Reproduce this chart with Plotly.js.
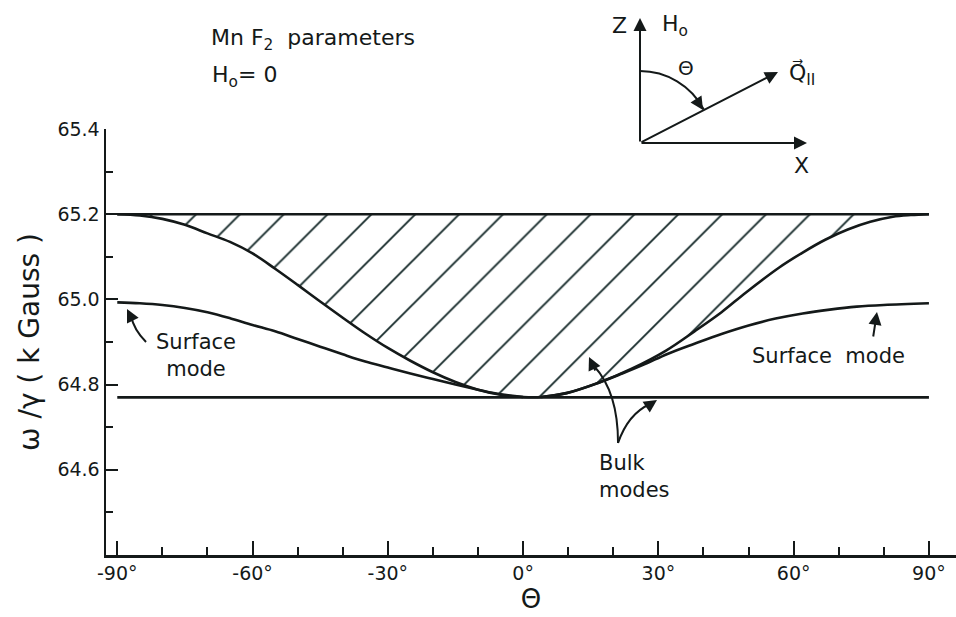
<!DOCTYPE html>
<html>
<head>
<meta charset="utf-8">
<script src="https://cdn.plot.ly/plotly-3.0.1.min.js"></script>
<style>html,body{margin:0;padding:0;background:#fff;}#chart{width:956px;height:617px;}</style>
</head>
<body>
<div id="chart"></div>
<script>
// ---- Data ----
const thetaBulk = [-90, -85, -80, -75, -70, -65, -60, -55, -50, -45, -40, -35, -30, -25, -20, -15, -10, -5, 0, 4, 9.6, 16.9, 24.2, 31.7, 38, 44, 49.5, 56.8, 62, 67, 72, 77, 82, 86, 90];
const omegaBulk = [65.2, 65.197, 65.189, 65.175, 65.155, 65.135, 65.108, 65.072, 65.034, 64.995, 64.957, 64.920, 64.886, 64.856, 64.829, 64.806, 64.788, 64.776, 64.771, 64.771, 64.780, 64.805, 64.838, 64.880, 64.925, 64.970, 65.017, 65.075, 65.110, 65.140, 65.164, 65.182, 65.194, 65.198, 65.2];

const thetaSurfLeft = [-90, -85, -80, -75, -70, -65, -60, -55, -50, -45, -40, -35, -30, -25, -20, -15, -10, -5, 0];
const omegaSurfLeft = [64.993, 64.991, 64.987, 64.980, 64.970, 64.956, 64.940, 64.925, 64.907, 64.889, 64.871, 64.854, 64.840, 64.826, 64.813, 64.800, 64.788, 64.777, 64.771];

const thetaSurfRight = [4, 9.6, 16.9, 22, 27, 32, 38, 44, 50, 56, 62, 68, 74, 80, 90];
const omegaSurfRight = [64.771, 64.780, 64.805, 64.826, 64.848, 64.872, 64.896, 64.919, 64.939, 64.955, 64.967, 64.976, 64.983, 64.987, 64.991];

const thetaLimits = [-90, 90];
const omegaUpper = [65.2, 65.2];
const omegaLower = [64.77, 64.77];

const xTickVals = [-90, -60, -30, 0, 30, 60, 90];
const xTickText = ['-90°', '-60°', '-30°', '0°', '30°', '60°', '90°'];
const yTickVals = [64.6, 64.8, 65.0, 65.2, 65.4];
const yTickText = ['64.6', '64.8', '65.0', '65.2', '65.4'];

// ---- Styling / layout ----
const INK = '#141919';
const FONT = 'DejaVu Sans, Liberation Sans, sans-serif';
const L = 106, R = 0, T = 129, B = 62, W = 956, H = 617;
const PW = W - L - R, PH = H - T - B;
const px = v => (v - L) / PW;
const py = v => (H - B - v) / PH;
const pt = (x, y) => px(x).toFixed(4) + ',' + py(y).toFixed(4);

const lineStyle = {color: INK, width: 2.6, shape: 'spline', smoothing: 1};

const traces = [
  {x: thetaBulk, y: omegaBulk, mode: 'lines', line: lineStyle, hoverinfo: 'skip'},
  {x: thetaLimits, y: omegaUpper, mode: 'lines', line: {color: INK, width: 2.6},
   fill: 'tonexty', fillcolor: 'rgba(0,0,0,0)',
   fillpattern: {shape: '/', size: 31, solidity: 0.06, fgcolor: '#142828', bgcolor: 'rgba(255,255,255,0)'},
   hoverinfo: 'skip'},
  {x: thetaLimits, y: omegaLower, mode: 'lines', line: {color: INK, width: 2.6}, hoverinfo: 'skip'},
  {x: thetaSurfLeft, y: omegaSurfLeft, mode: 'lines', line: lineStyle, hoverinfo: 'skip'},
  {x: thetaSurfRight, y: omegaSurfRight, mode: 'lines', line: lineStyle, hoverinfo: 'skip'}
];

function txt(text, x, y, size, opts) {
  return Object.assign({text: text, xref: 'paper', yref: 'paper', x: px(x), y: py(y),
    xanchor: 'center', yanchor: 'middle', showarrow: false,
    font: {family: FONT, size: size, color: INK}}, opts || {});
}
function arrow(tipX, tipY, ax, ay) {
  return {text: '', xref: 'paper', yref: 'paper', x: px(tipX), y: py(tipY), ax: ax, ay: ay,
    showarrow: true, arrowhead: 2, arrowsize: 1.3, arrowwidth: 2, arrowcolor: INK};
}

const annotations = [
  txt('Mn F<sub>2</sub>  parameters', 209, 40, 22, {xanchor: 'left'}),
  txt('H<sub>o</sub>= 0', 210, 76, 22, {xanchor: 'left'}),
  txt('Surface<br>mode', 196, 355, 21),
  txt('Surface  mode', 828, 356, 21),
  txt('Bulk<br>modes', 597, 476, 21, {xanchor: 'left', align: 'left'}),
  // inset diagram labels
  txt('Z', 619, 25, 22),
  txt('H<sub>o</sub>', 660, 26, 22, {xanchor: 'left'}),
  txt('Θ', 686, 68, 20),
  txt('Q\u20D7<sub>II</sub>', 787, 74, 22, {xanchor: 'left'}),
  txt('X', 801, 165, 22),
  // inset arrows
  arrow(640, 18, 0, 125),
  arrow(807, 143, -167, 0),
  arrow(778, 72, -138, 71),
  arrow(703, 110, -7, -11),
  // pointer arrows
  arrow(127, 309, 6, 12),
  arrow(877, 312, -4, 26),
  arrow(589, 357, 7, 15),
  arrow(657, 400, -12, 8)
];

const pathStyle = {color: INK, width: 2};
const shapes = [
  // arc for theta in the inset
  {type: 'path', xref: 'paper', yref: 'paper', line: pathStyle,
   path: 'M' + pt(640, 71) + ' C' + pt(666.6, 71) + ' ' + pt(691.1, 85.7) + ' ' + pt(703.6, 109.2)},
  // left surface pointer
  {type: 'path', xref: 'paper', yref: 'paper', line: pathStyle,
   path: 'M' + pt(146, 342) + ' Q' + pt(134, 330) + ' ' + pt(131, 316)},
  // bulk pointers
  {type: 'path', xref: 'paper', yref: 'paper', line: pathStyle,
   path: 'M' + pt(618, 443) + ' Q' + pt(618, 392) + ' ' + pt(594, 366)},
  {type: 'path', xref: 'paper', yref: 'paper', line: pathStyle,
   path: 'M' + pt(618, 443) + ' Q' + pt(628, 414) + ' ' + pt(650, 404)}
];

const layout = {
  width: W, height: H,
  margin: {l: L, r: R, t: T, b: B},
  paper_bgcolor: '#ffffff', plot_bgcolor: '#ffffff',
  showlegend: false,
  font: {family: FONT, color: INK},
  xaxis: {
    range: [-92.5, 96], showgrid: false, zeroline: false,
    showline: true, linecolor: INK, linewidth: 2.5,
    ticks: 'inside', ticklen: 14, tickwidth: 2, tickcolor: INK,
    tickvals: xTickVals, ticktext: xTickText,
    tickfont: {family: FONT, size: 19, color: INK},
    minor: {tick0: -90, dtick: 10, ticks: 'inside', ticklen: 8, tickwidth: 2, tickcolor: INK},
    title: {text: 'Θ', font: {family: FONT, size: 26, color: INK}, standoff: 4}
  },
  yaxis: {
    range: [64.4, 65.4], showgrid: false, zeroline: false,
    showline: true, linecolor: INK, linewidth: 2.5,
    ticks: 'inside', ticklen: 12, tickwidth: 2, tickcolor: INK,
    tickvals: yTickVals, ticktext: yTickText,
    tickfont: {family: FONT, size: 19, color: INK},
    minor: {tick0: 64.4, dtick: 0.1, ticks: 'inside', ticklen: 7, tickwidth: 2, tickcolor: INK},
    title: {text: 'ω /γ ( k Gauss )', font: {family: FONT, size: 28, color: INK}, standoff: 10}
  },
  annotations: annotations,
  shapes: shapes
};

Plotly.newPlot('chart', traces, layout, {staticPlot: true, displayModeBar: false});
</script>
</body>
</html>
